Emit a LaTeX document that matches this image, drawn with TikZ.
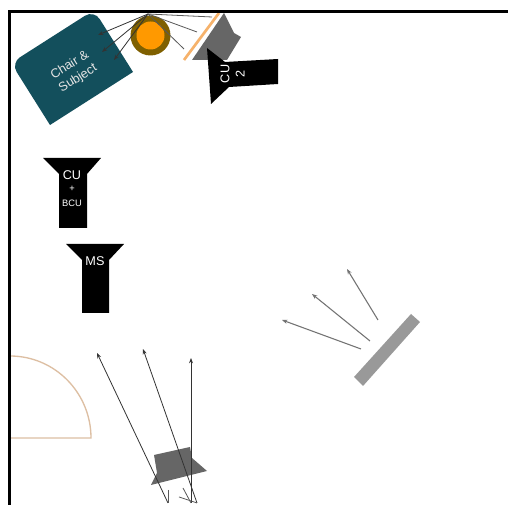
\documentclass[tikz,border=0pt]{standalone}
\usepackage{fontspec}
\setmainfont{Liberation Sans}
\usepackage{tikz}
\usetikzlibrary{arrows.meta}
\definecolor{chairteal}{HTML}{134F5C}
\definecolor{bulbrim}{HTML}{7F6000}
\definecolor{bulbcore}{HTML}{FF9900}
\definecolor{gelpeach}{HTML}{F6B26B}
\definecolor{lampgrey}{HTML}{666666}
\definecolor{boardgrey}{HTML}{999999}
\definecolor{tableedge}{HTML}{DDBFA3}

\begin{document}
\begin{tikzpicture}[
    x=0.75pt, y=-0.75pt,
    camlabel/.style={text=white, font=\fontsize{9.5}{11.5}\selectfont, align=center, inner sep=0pt},
    chairlabel/.style={text=white!90!black, font=\fontsize{9.5}{11.5}\selectfont, align=center, inner sep=0pt},
    smalllabel/.style={text=white, font=\fontsize{7}{8}\selectfont, inner sep=0pt},
    camera/.style={fill=black, draw=none},
    ray/.style={-{Stealth[length=4pt,width=3pt]}, color=black!80, line width=0.6pt},
    bounce/.style={-{Stealth[length=4pt,width=3pt]}, color=black!55, line width=0.8pt},
    stub/.style={color=black!65, line width=0.6pt}
]
\useasboundingbox (0,0) rectangle (508,505);

\fill[white] (0,0) rectangle (508,505);

% table
\draw[tableedge, line width=1pt] (10,356) .. controls (55,356) and (91,393) .. (91,438) -- (10,438);

% chair
\fill[chairteal] (133,72) -- (50,125) [rounded corners=8pt] -- (11,63) -- (94,10) [sharp corners] -- cycle;
\node[chairlabel, rotate=32] (chair) at (74,72) {Chair \&\\Subject};

% bulb
\node[circle, fill=bulbrim, minimum size=30pt, inner sep=0pt] (rim) at (150.5,35.5) {};
\node[circle, fill=bulbcore, minimum size=21pt, inner sep=0pt] (core) at (150.5,35.5) {};

\coordinate (hub) at (148,14);
\coordinate (c1) at (98,35);
\coordinate (c2) at (102,52);
\coordinate (c3) at (114,60);
\coordinate (g1) at (184,49);
\coordinate (g2) at (197,32);
\coordinate (g3) at (212,17);

\draw[ray] (hub) -- (c1);
\draw[ray] (hub) -- (c2);
\draw[ray] (hub) -- (c3);
\draw[stub] (hub) -- (g1);
\draw[stub] (hub) -- (g2);
\draw[stub] (hub) -- (g3);

% key light
\fill[lampgrey] (224,13) -- (234,33) -- (241,37) -- (227,60) -- (192,60) -- cycle;
\draw[gelpeach, line width=2pt] (219,13) -- (184,60);

% cu 2
\fill[camera] (207,48) -- (225,62) -- (278,59) -- (278,84) -- (229,87) -- (211,104) -- cycle;
\node[camlabel, rotate=90] (cu2) at (232.5,74) {CU\\2};

% cu + bcu
\fill[camera] (43,158) -- (101,158) -- (87,174) -- (87,228) -- (59,228) -- (59,174) -- cycle;
\node[camlabel] (cu) at (72,175) {CU};
\node[smalllabel] (plus) at (72,189) {+};
\node[smalllabel] (bcu) at (72,203) {BCU};

% ms
\fill[camera] (66,244) -- (124,244) -- (109,260) -- (109,313) -- (82,313) -- (82,260) -- cycle;
\node[camlabel] (ms) at (95,261) {MS};

% back light
\fill[lampgrey] (154,455) -- (190,447) -- (192,458) -- (207,471) -- (151,485) -- (157,473) -- cycle;

\coordinate (b1) at (168,503);
\coordinate (b2) at (197,503);
\coordinate (b3) at (191,503);
\coordinate (t1) at (97,353);
\coordinate (t2) at (143,349);
\coordinate (t3) at (191,358);
\coordinate (s1) at (168,490);
\coordinate (s2) at (183,488);
\coordinate (s3) at (179,497);

\draw[ray] (b1) -- (t1);
\draw[ray] (b2) -- (t2);
\draw[ray] (b3) -- (t3);
\draw[stub] (s1) -- (b1);
\draw[stub] (s2) -- (b3);
\draw[stub] (s3) -- (b2);

% bounce board
\fill[boardgrey] (411,314) -- (420,322) -- (363,386) -- (354,377) -- cycle;

\coordinate (f1) at (378,320);
\coordinate (f2) at (370,341);
\coordinate (f3) at (361,349);
\coordinate (e1) at (347,269);
\coordinate (e2) at (312,294);
\coordinate (e3) at (282,320);

\draw[bounce] (f1) -- (e1);
\draw[bounce] (f2) -- (e2);
\draw[bounce] (f3) -- (e3);

% frame
\draw[black, line width=1.9pt] (9.5,505) -- (9.5,11.5) -- (508,11.5);

\end{tikzpicture}
\end{document}
